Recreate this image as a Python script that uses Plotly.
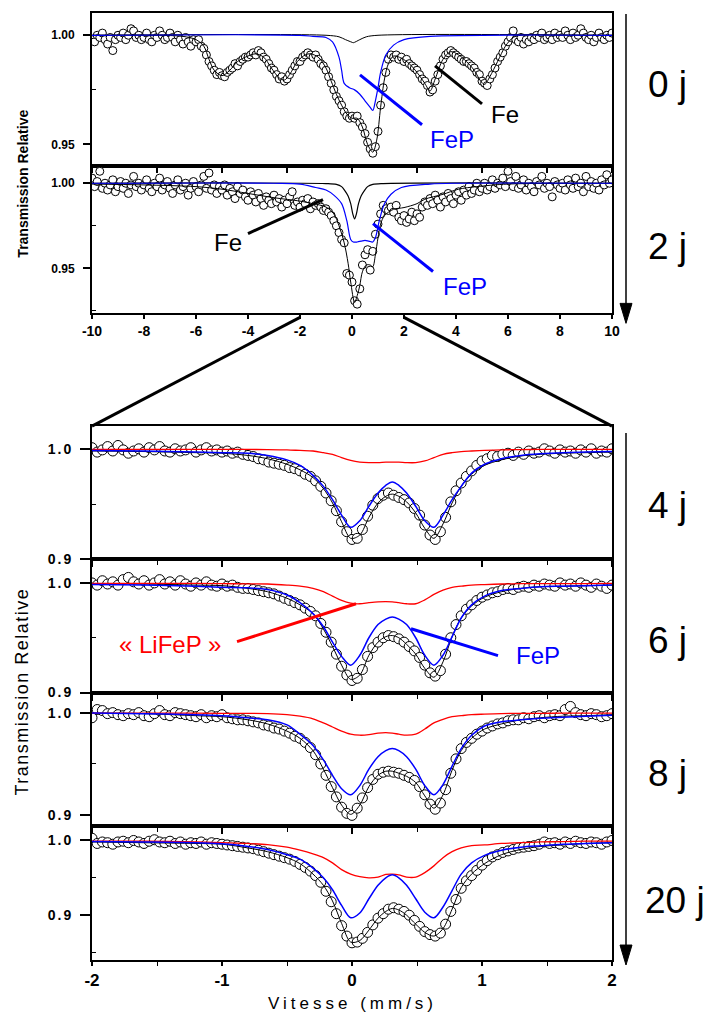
import numpy as np
import plotly.graph_objects as go

# ---------------- velocity channels ----------------
V_TOP = np.round(np.linspace(-10, 10, 201), 3)
V_BOT = np.round(np.linspace(-2, 2, 101), 3)

# ---------------- 0 j spectrum (wide range) ----------------
D0 = [0.998, 0.997, 1.000, 0.999, 1.001, 0.998, 0.996, 0.999, 0.993, 0.998,
      1.000, 0.999, 1.001, 0.998, 1.000, 1.003, 1.002, 0.999, 1.000, 0.998,
      0.999, 1.001, 0.998, 0.997, 1.000, 0.999, 1.002, 1.000, 0.998, 0.999,
      1.001, 0.999, 0.997, 1.000, 0.998, 0.996, 0.999, 0.997, 0.995, 0.998,
      0.997, 0.998, 0.995, 0.994, 0.991, 0.988, 0.986, 0.984, 0.982, 0.983,
      0.9815, 0.981, 0.983, 0.984, 0.985, 0.987, 0.986, 0.988, 0.989, 0.990,
      0.990, 0.991, 0.992, 0.991, 0.993, 0.992, 0.990, 0.989, 0.987, 0.985,
      0.984, 0.982, 0.980, 0.981, 0.979, 0.980, 0.982, 0.984, 0.986, 0.988,
      0.988, 0.990, 0.991, 0.992, 0.991, 0.990, 0.991, 0.989, 0.987, 0.986,
      0.984, 0.981, 0.978, 0.975, 0.972, 0.970, 0.968, 0.965, 0.963, 0.962,
      0.963, 0.962, 0.963, 0.960, 0.958, 0.955, 0.951, 0.948, 0.946, 0.949,
      0.956, 0.968, 0.976, 0.983, 0.989, 0.991, 0.990, 0.991, 0.989, 0.990,
      0.988, 0.989, 0.987, 0.986, 0.985, 0.984, 0.982, 0.980, 0.979, 0.977,
      0.974, 0.975, 0.979, 0.982, 0.986, 0.989, 0.991, 0.992, 0.993, 0.992,
      0.991, 0.990, 0.989, 0.988, 0.988, 0.987, 0.986, 0.985, 0.983, 0.982,
      0.979, 0.978, 0.977, 0.980, 0.982, 0.985, 0.988, 0.990, 0.992, 0.995,
      0.997, 0.999, 1.002, 0.998, 0.997, 0.999, 0.996, 0.998, 0.997, 0.999,
      0.998, 1.000, 0.999, 1.001, 0.998, 0.999, 1.000, 0.998, 1.001, 0.999,
      1.000, 0.999, 1.002, 1.000, 0.998, 1.001, 0.999, 1.000, 1.003, 1.001,
      0.999, 0.998, 1.000, 0.997, 0.999, 1.001, 0.999, 0.998, 1.000, 0.999,
      1.001]
FIT0_X = [-10, -8, -6.5, -6.0, -5.7, -5.5, -5.3, -5.0, -4.7, -4.4, -4.0, -3.7, -3.4, -3.1,
          -2.8, -2.6, -2.4, -2.1, -1.8, -1.6, -1.3, -1.0, -0.8, -0.6, -0.4, -0.2, 0.0, 0.2,
          0.4, 0.6, 0.8, 0.95, 1.1, 1.25, 1.4, 1.6, 1.9, 2.2, 2.5, 2.8, 3.0, 3.2, 3.5, 3.8,
          4.1, 4.4, 4.7, 4.95, 5.1, 5.3, 5.6, 5.9, 6.2, 6.5, 8, 10]
FIT0_Y = [1.0, 1.0, 0.9995, 0.998, 0.995, 0.989, 0.984, 0.9815, 0.984, 0.988, 0.9905, 0.9915,
          0.990, 0.985, 0.9805, 0.9795, 0.982, 0.988, 0.991, 0.9915, 0.990, 0.985, 0.979,
          0.973, 0.968, 0.964, 0.962, 0.962, 0.958, 0.950, 0.9465, 0.952, 0.967, 0.980,
          0.987, 0.9905, 0.9895, 0.987, 0.983, 0.978, 0.9745, 0.980, 0.989, 0.9925, 0.991,
          0.988, 0.984, 0.979, 0.9775, 0.981, 0.988, 0.995, 0.999, 1.0, 1.0, 1.0]
FEP0_X = [-10, -2, -1.5, -1.0, -0.75, -0.5, -0.4, -0.3, -0.1, 0.1, 0.3, 0.5, 0.7, 0.8, 0.9,
          1.0, 1.1, 1.3, 1.6, 2.0, 3.0, 10]
FEP0_Y = [1.0, 1.0, 0.9995, 0.999, 0.997, 0.990, 0.984, 0.978, 0.976, 0.975, 0.973, 0.970,
          0.967, 0.9656, 0.970, 0.976, 0.983, 0.991, 0.9955, 0.998, 0.9995, 1.0]
FE0_X = [-10, -1.0, -0.5, -0.25, 0.0, 0.05, 0.3, 0.55, 1.0, 10]
FE0_Y = [1.0, 1.0, 0.9993, 0.998, 0.9968, 0.9966, 0.998, 0.9993, 1.0, 1.0]

# ---------------- 2 j spectrum (wide range) ----------------
D2 = [1.003, 0.998, 1.001, 1.007, 0.997, 1.000, 0.996, 0.999, 1.002, 0.995,
      0.998, 1.001, 0.997, 1.000, 0.994, 0.999, 1.004, 0.998, 1.000, 0.996,
      0.999, 1.002, 0.997, 0.995, 1.000, 0.998, 1.003, 0.996, 0.999, 1.001,
      0.997, 0.994, 0.999, 1.002, 0.996, 0.998, 1.000, 0.993, 0.997, 1.001,
      0.998, 0.995, 0.999, 1.004, 0.997, 1.006, 0.996, 0.999, 0.994, 0.998,
      0.996, 0.999, 0.993, 0.997, 0.995, 0.991, 0.998, 0.994, 0.996, 0.992,
      0.990, 0.995, 0.993, 0.989, 0.994, 0.991, 0.987, 0.992, 0.990, 0.988,
      0.993, 0.989, 0.991, 0.986, 0.990, 0.988, 0.992, 0.995, 0.987, 0.989,
      0.986, 0.990, 0.988, 0.991, 0.985, 0.989, 0.987, 0.988, 0.986, 0.984,
      0.985, 0.983, 0.981, 0.978, 0.975, 0.971, 0.967, 0.965, 0.947, 0.946,
      0.942, 0.931, 0.929, 0.938, 0.952, 0.958, 0.961, 0.949, 0.960, 0.970,
      0.976, 0.982, 0.987, 0.985, 0.984, 0.986, 0.983, 0.987, 0.980, 0.978,
      0.981, 0.977, 0.979, 0.983, 0.978, 0.982, 0.980, 0.986, 0.989, 0.987,
      0.991, 0.988, 0.993, 0.990, 0.986, 0.992, 0.989, 0.994, 0.991, 0.988,
      0.993, 0.995, 0.990, 0.996, 0.993, 0.998, 0.994, 0.996, 1.000, 0.995,
      0.997, 1.000, 0.996, 0.998, 1.002, 0.997, 1.000, 0.999, 1.003, 0.998,
      1.007, 1.001, 0.998, 1.004, 0.997, 0.999, 1.002, 0.996, 1.000, 0.998,
      0.995, 1.001, 0.999, 1.004, 0.997, 1.000, 0.998, 0.992, 1.001, 0.999,
      0.997, 1.000, 0.996, 1.002, 0.999, 0.997, 1.003, 0.998, 1.000, 0.995,
      1.004, 0.998, 1.001, 0.997, 1.000, 0.996, 1.002, 0.999, 1.005, 1.000,
      1.002]
FIT2_X = [-10, -8, -6, -5, -4, -3, -2, -1.5, -1.0, -0.7, -0.5, -0.3, -0.15, -0.05, 0.1, 0.2,
          0.3, 0.4, 0.55, 0.7, 0.8, 0.9, 1.0, 1.1, 1.25, 1.6, 2.0, 2.5, 2.8, 3.5, 4.1, 4.8,
          6, 10]
FIT2_Y = [0.9995, 0.999, 0.998, 0.9965, 0.994, 0.9915, 0.9895, 0.988, 0.986, 0.982, 0.975,
          0.965, 0.953, 0.942, 0.930, 0.934, 0.940, 0.948, 0.952, 0.952, 0.951, 0.958,
          0.968, 0.976, 0.981, 0.9847, 0.9857, 0.988, 0.9906, 0.9935, 0.9965, 0.998,
          0.9995, 1.0]
FEP2_X = [-10, -3, -2, -1.4, -1.0, -0.7, -0.4, -0.2, -0.05, 0.05, 0.2, 0.35, 0.5, 0.65, 0.8,
          0.9, 1.05, 1.24, 1.5, 1.9, 3.0, 4.0, 10]
FEP2_Y = [1.0, 1.0, 0.9995, 0.9975, 0.996, 0.993, 0.988, 0.978, 0.967, 0.9655, 0.9655, 0.966,
          0.9665, 0.966, 0.9655, 0.968, 0.978, 0.9877, 0.9935, 0.9975, 0.9995, 1.0, 1.0]
FE2_X = [-10, -1, -0.6, -0.4, -0.27, -0.15, -0.05, 0.03, 0.1, 0.17, 0.25, 0.35, 0.47, 0.6,
         0.8, 1.2, 10]
FE2_Y = [1.0, 0.9998, 0.9993, 0.998, 0.9955, 0.9925, 0.988, 0.982, 0.979, 0.982, 0.988,
         0.9925, 0.9955, 0.998, 0.9993, 0.9998, 1.0]

# ---------------- narrow range spectra ----------------
D4 = [1.001, 0.997, 0.999, 1.002, 0.998, 1.003, 0.999, 0.996, 0.998, 1.000,
      0.997, 1.001, 0.999, 1.002, 0.998, 0.997, 1.000, 0.998, 0.999, 1.001,
      0.997, 0.999, 1.001, 0.998, 0.999, 0.997, 0.998, 0.996, 0.997, 0.995,
      0.994, 0.993, 0.991, 0.990, 0.988, 0.987, 0.986, 0.985, 0.983, 0.982,
      0.980, 0.977, 0.975, 0.971, 0.966, 0.960, 0.953, 0.944, 0.934, 0.925,
      0.918, 0.919, 0.927, 0.939, 0.949, 0.955, 0.958, 0.960, 0.958, 0.956,
      0.954, 0.951, 0.946, 0.940, 0.931, 0.922, 0.918, 0.925, 0.938, 0.952,
      0.962, 0.969, 0.975, 0.980, 0.985, 0.989, 0.991, 0.994, 0.993, 0.995,
      0.996, 0.994, 0.997, 0.995, 0.998, 0.996, 0.997, 1.000, 0.998, 0.996,
      0.999, 0.997, 0.998, 0.996, 0.999, 0.997, 1.000, 0.996, 0.998, 0.997,
      1.000]
D6 = [1.000, 0.998, 1.002, 0.999, 1.001, 0.998, 1.003, 1.005, 1.001, 0.999,
      1.002, 0.998, 1.000, 1.003, 0.999, 1.001, 0.998, 1.002, 0.999, 0.997,
      1.000, 0.998, 1.001, 0.998, 0.997, 0.999, 0.997, 0.998, 0.996, 0.995,
      0.995, 0.994, 0.993, 0.992, 0.991, 0.990, 0.988, 0.986, 0.984, 0.982,
      0.980, 0.977, 0.974, 0.970, 0.963, 0.955, 0.946, 0.935, 0.924, 0.916,
      0.911, 0.913, 0.921, 0.933, 0.941, 0.946, 0.950, 0.952, 0.951, 0.949,
      0.946, 0.942, 0.938, 0.932, 0.925, 0.918, 0.915, 0.920, 0.935, 0.950,
      0.962, 0.970, 0.976, 0.980, 0.984, 0.987, 0.989, 0.991, 0.992, 0.994,
      0.995, 0.994, 0.996, 0.997, 0.996, 0.998, 0.997, 0.999, 0.998, 0.997,
      1.000, 0.998, 0.999, 0.997, 1.000, 0.998, 0.996, 0.999, 0.997, 0.995,
      0.998]
D8 = [0.995, 1.003, 1.002, 0.999, 1.000, 0.998, 0.997, 0.999, 0.998, 1.000,
      0.997, 0.996, 0.999, 1.002, 0.998, 0.997, 1.000, 0.999, 0.998, 0.997,
      0.996, 0.998, 0.995, 0.997, 0.996, 0.998, 0.995, 0.994, 0.993, 0.993,
      0.992, 0.991, 0.990, 0.988, 0.987, 0.985, 0.984, 0.982, 0.980, 0.977,
      0.975, 0.971, 0.966, 0.959, 0.950, 0.939, 0.928, 0.918, 0.908, 0.902,
      0.900, 0.907, 0.917, 0.927, 0.935, 0.940, 0.942, 0.943, 0.942, 0.941,
      0.939, 0.937, 0.934, 0.928, 0.920, 0.911, 0.906, 0.912, 0.925, 0.941,
      0.955, 0.965, 0.971, 0.975, 0.979, 0.982, 0.985, 0.987, 0.989, 0.990,
      0.992, 0.993, 0.993, 0.995, 0.994, 0.996, 0.997, 0.995, 0.997, 0.998,
      0.997, 1.003, 1.006, 1.000, 0.998, 0.997, 0.999, 0.998, 0.996, 0.997,
      0.999]
D20 = [1.003, 0.996, 0.998, 0.997, 0.995, 0.998, 0.999, 0.997, 1.000, 0.998,
       0.996, 0.999, 1.001, 0.998, 0.997, 0.999, 0.996, 0.998, 0.995, 0.997,
       0.996, 0.998, 0.995, 0.997, 0.996, 0.995, 0.994, 0.993, 0.992, 0.991,
       0.990, 0.989, 0.987, 0.985, 0.983, 0.981, 0.979, 0.977, 0.975, 0.972,
       0.968, 0.964, 0.959, 0.953, 0.944, 0.932, 0.918, 0.902, 0.886, 0.872,
       0.863, 0.864, 0.869, 0.877, 0.887, 0.896, 0.902, 0.908, 0.910, 0.908,
       0.905, 0.900, 0.893, 0.885, 0.878, 0.874, 0.872, 0.876, 0.888, 0.905,
       0.921, 0.936, 0.946, 0.953, 0.960, 0.967, 0.973, 0.978, 0.981, 0.984,
       0.986, 0.988, 0.990, 0.991, 0.992, 0.993, 0.995, 0.998, 0.996, 0.997,
       0.995, 0.998, 0.996, 0.999, 0.997, 0.996, 0.998, 0.997, 0.995, 0.998,
       1.000]

FIT_XB = [-2.0, -1.6, -1.2, -1.0, -0.8, -0.65, -0.5, -0.4, -0.3, -0.22, -0.15, -0.08, -0.01,
          0.06, 0.13, 0.2, 0.26, 0.31, 0.36, 0.42, 0.49, 0.56, 0.63, 0.70, 0.77, 0.84, 0.92,
          1.02, 1.15, 1.3, 1.45, 1.62, 1.8, 2.0]

FEP4 = [0.9985, 0.998, 0.997, 0.9965, 0.996, 0.994, 0.990, 0.985, 0.976, 0.966, 0.954, 0.940,
        0.929, 0.935, 0.948, 0.960, 0.967, 0.970, 0.967, 0.960, 0.948, 0.935, 0.929, 0.940,
        0.954, 0.966, 0.978, 0.986, 0.991, 0.994, 0.9955, 0.9965, 0.997, 0.9975]
LI4 = [0.9995, 0.9995, 0.9995, 0.9994, 0.9994, 0.9993, 0.999, 0.9985, 0.998, 0.9965, 0.995,
       0.992, 0.9895, 0.988, 0.9875, 0.9875, 0.988, 0.988, 0.988, 0.9875, 0.9875, 0.989,
       0.992, 0.995, 0.9965, 0.9975, 0.998, 0.9985, 0.999, 0.9993, 0.9994, 0.9995, 0.9995,
       0.9995]
FIT4 = [0.998, 0.9975, 0.9965, 0.996, 0.994, 0.991, 0.986, 0.981, 0.974, 0.964, 0.951, 0.934,
        0.919, 0.922, 0.938, 0.951, 0.957, 0.959, 0.957, 0.952, 0.942, 0.928, 0.919, 0.932,
        0.951, 0.966, 0.977, 0.985, 0.990, 0.9935, 0.995, 0.996, 0.9965, 0.997]

FEP6 = [0.9985, 0.998, 0.997, 0.996, 0.9955, 0.994, 0.989, 0.982, 0.972, 0.960, 0.946, 0.933,
        0.925, 0.934, 0.950, 0.962, 0.967, 0.969, 0.967, 0.962, 0.950, 0.934, 0.925, 0.934,
        0.951, 0.968, 0.980, 0.988, 0.993, 0.995, 0.9965, 0.997, 0.9975, 0.998]
LI6 = [0.9995, 0.9995, 0.9995, 0.9993, 0.9992, 0.999, 0.998, 0.997, 0.995, 0.992, 0.988,
       0.984, 0.9815, 0.981, 0.982, 0.9828, 0.983, 0.9828, 0.982, 0.981, 0.981, 0.9845,
       0.9895, 0.9935, 0.996, 0.997, 0.998, 0.9985, 0.999, 0.9993, 0.9993, 0.9994, 0.9994,
       0.9995]
FIT6 = [0.9995, 0.999, 0.998, 0.9975, 0.995, 0.992, 0.986, 0.980, 0.972, 0.958, 0.942, 0.925,
        0.912, 0.916, 0.934, 0.946, 0.951, 0.952, 0.950, 0.944, 0.935, 0.922, 0.914, 0.928,
        0.951, 0.968, 0.979, 0.987, 0.992, 0.995, 0.9965, 0.997, 0.9975, 0.998]

FEP8 = [0.9995, 0.999, 0.998, 0.997, 0.995, 0.993, 0.988, 0.979, 0.968, 0.954, 0.939, 0.926,
        0.920, 0.929, 0.945, 0.957, 0.963, 0.965, 0.963, 0.957, 0.945, 0.929, 0.920, 0.930,
        0.948, 0.965, 0.978, 0.987, 0.991, 0.993, 0.9945, 0.9955, 0.9965, 0.9974]
LI8 = [0.9995, 0.9995, 0.9995, 0.9993, 0.9992, 0.999, 0.998, 0.9965, 0.994, 0.990, 0.986,
       0.982, 0.979, 0.978, 0.9785, 0.980, 0.9805, 0.980, 0.979, 0.978, 0.979, 0.984, 0.990,
       0.9935, 0.996, 0.997, 0.998, 0.9985, 0.999, 0.9993, 0.9993, 0.9994, 0.9994, 0.9995]
FIT8 = [0.9995, 0.999, 0.997, 0.996, 0.993, 0.989, 0.982, 0.975, 0.963, 0.945, 0.927, 0.910,
        0.901, 0.910, 0.928, 0.939, 0.943, 0.943, 0.941, 0.938, 0.932, 0.919, 0.907, 0.920,
        0.944, 0.963, 0.975, 0.984, 0.989, 0.993, 0.995, 0.9965, 0.997, 0.998]

FEP20 = [0.9985, 0.998, 0.997, 0.9955, 0.992, 0.988, 0.981, 0.975, 0.963, 0.950, 0.934, 0.913,
         0.8965, 0.903, 0.922, 0.940, 0.950, 0.954, 0.950, 0.940, 0.922, 0.904, 0.8965, 0.911,
         0.933, 0.955, 0.970, 0.980, 0.987, 0.991, 0.993, 0.995, 0.996, 0.997]
LI20 = [0.999, 0.999, 0.998, 0.997, 0.996, 0.9945, 0.991, 0.987, 0.982, 0.977, 0.970, 0.961,
        0.955, 0.9515, 0.950, 0.951, 0.9545, 0.955, 0.954, 0.951, 0.951, 0.957, 0.966, 0.977,
        0.985, 0.990, 0.993, 0.994, 0.996, 0.997, 0.998, 0.9985, 0.999, 0.999]
FIT20 = [0.998, 0.997, 0.996, 0.995, 0.990, 0.985, 0.977, 0.969, 0.955, 0.940, 0.919, 0.889,
         0.864, 0.866, 0.880, 0.896, 0.905, 0.909, 0.907, 0.900, 0.888, 0.877, 0.872, 0.882,
         0.908, 0.937, 0.955, 0.969, 0.981, 0.988, 0.992, 0.994, 0.996, 0.997]

# ---------------- labels ----------------
DAY_LABELS = ["0 j", "2 j", "4 j", "6 j", "8 j", "20 j"]
TOP_XTICKS = [-10, -8, -6, -4, -2, 0, 2, 4, 6, 8, 10]
BOT_XTICKS = [-2, -1, 0, 1, 2]

# ---------------- geometry helpers (pixel -> paper) ----------------
W, H = 712, 1023
ML, MR, MT, MB = 92, 100, 11, 63
PW, PH = W - ML - MR, H - MT - MB


def X(px):
    return (px - ML) / PW


def Y(py):
    return (H - MB - py) / PH


FONT = "Liberation Sans, Arial, sans-serif"
BLUE = "#0000ff"
RED = "#ff0000"

fig = go.Figure()

panels = [
    dict(x=V_TOP, y=D0, fits=[(FIT0_X, FIT0_Y, "black", 1), (FE0_X, FE0_Y, "black", 1),
                                (FEP0_X, FEP0_Y, BLUE, 1.2)],
         yr=[0.9403, 1.0102], top=11, bot=164, wide=True, msize=8),
    dict(x=V_TOP, y=D2, fits=[(FIT2_X, FIT2_Y, "black", 1), (FE2_X, FE2_Y, "black", 1.2),
                                (FEP2_X, FEP2_Y, BLUE, 1.2)],
         yr=[0.9236, 1.0103], top=164, bot=312, wide=True, msize=8),
    dict(x=V_BOT, y=D4, fits=[(FIT_XB, FIT4, "black", 1), (FIT_XB, LI4, RED, 1.3),
                                (FIT_XB, FEP4, BLUE, 1.5)],
         yr=[0.9, 1.0205], top=425, bot=558.5, wide=False, msize=10),
    dict(x=V_BOT, y=D6, fits=[(FIT_XB, FIT6, "black", 1), (FIT_XB, LI6, RED, 1.3),
                                (FIT_XB, FEP6, BLUE, 1.5)],
         yr=[0.9, 1.0215], top=558.5, bot=692, wide=False, msize=10),
    dict(x=V_BOT, y=D8, fits=[(FIT_XB, FIT8, "black", 1), (FIT_XB, LI8, RED, 1.3),
                                (FIT_XB, FEP8, BLUE, 1.5)],
         yr=[0.8894, 1.0195], top=692, bot=826, wide=False, msize=10),
    dict(x=V_BOT, y=D20, fits=[(FIT_XB, FIT20, "black", 1), (FIT_XB, LI20, RED, 1.3),
                                 (FIT_XB, FEP20, BLUE, 1.5)],
         yr=[0.840, 1.019], top=826, bot=960, wide=False, msize=10),
]

layout_axes = {}
for i, p in enumerate(panels, start=1):
    xa = "x" if i == 1 else f"x{i}"
    ya = "y" if i == 1 else f"y{i}"
    fig.add_trace(go.Scatter(
        x=p["x"], y=p["y"], mode="markers", xaxis=xa, yaxis=ya, showlegend=False,
        marker=dict(symbol="circle", size=p["msize"], color="white",
                    line=dict(color="black", width=1)),
        hoverinfo="skip"))
    for fx, fy, col, lw in p["fits"]:
        fig.add_trace(go.Scatter(
            x=fx, y=fy, mode="lines", xaxis=xa, yaxis=ya, showlegend=False,
            line=dict(color=col, width=lw, shape="spline", smoothing=0.9),
            hoverinfo="skip"))

    xkey = "xaxis" if i == 1 else f"xaxis{i}"
    ykey = "yaxis" if i == 1 else f"yaxis{i}"
    dom = [Y(p["bot"]), Y(p["top"])]
    if p["wide"]:
        xcfg = dict(range=[-10, 10], domain=[0, 1], anchor=ya, showline=True, mirror=True,
                    linecolor="black", linewidth=2, showgrid=False, zeroline=False,
                    ticks="outside", ticklen=5, tickwidth=1.5, tickcolor="black")
        if i == 1:
            xcfg.update(tickvals=[-10, -7.5, -5, -2.5, 0, 2.5, 5, 7.5, 10], showticklabels=False)
        else:
            xcfg.update(tickvals=TOP_XTICKS, ticktext=[f"<b>{v}</b>" for v in TOP_XTICKS],
                        tickfont=dict(family=FONT, size=14, color="black"), ticklen=4)
        ycfg = dict(range=p["yr"], domain=dom, anchor=xa, showline=True, mirror=True,
                    linecolor="black", linewidth=2, showgrid=False, zeroline=False,
                    tickvals=[0.95, 1.0], ticktext=["<b>0.95</b>", "<b>1.00</b>"],
                    ticks="outside", ticklen=7, tickwidth=1.5, tickcolor="black",
                    ticklabelstandoff=6,
                    tickfont=dict(family=FONT, size=12, color="black"),
                    minor=dict(tickvals=[0.925, 0.975], ticks="inside", ticklen=4,
                               tickwidth=1, tickcolor="black"))
    else:
        xcfg = dict(range=[-2, 2], domain=[0, 1], anchor=ya, showline=True, mirror=True,
                    linecolor="black", linewidth=2, showgrid=False, zeroline=False,
                    tickvals=BOT_XTICKS, ticks="outside", ticklen=6, tickwidth=1.5,
                    tickcolor="black",
                    minor=dict(tickvals=[-1.5, -0.5, 0.5, 1.5], ticks="outside", ticklen=4,
                               tickwidth=1, tickcolor="black"))
        if i == 6:
            xcfg.update(ticktext=[f"<b>{v}</b>" for v in BOT_XTICKS], ticklen=4,
                        tickfont=dict(family=FONT, size=17, color="black"))
        else:
            xcfg.update(showticklabels=False)
        ycfg = dict(range=p["yr"], domain=dom, anchor=xa, showline=True, mirror=True,
                    linecolor="black", linewidth=2, showgrid=False, zeroline=False,
                    tickvals=[0.9, 1.0],
                    ticktext=['<span style="letter-spacing:2px"><b>0.9</b></span>',
                              '<span style="letter-spacing:2px"><b>1.0</b></span>'],
                    ticks="outside", ticklen=10, tickwidth=1.5, tickcolor="black",
                    ticklabelstandoff=4,
                    tickfont=dict(family=FONT, size=14, color="black"),
                    minor=dict(tickvals=[0.85, 0.95], ticks="inside", ticklen=4,
                               tickwidth=1, tickcolor="black"))
    layout_axes[xkey] = xcfg
    layout_axes[ykey] = ycfg

fig.update_layout(**layout_axes)

# ---------------- decorations ----------------
shapes = []


def seg(x0, y0, x1, y1, color="black", width=3):
    shapes.append(dict(type="line", xref="paper", yref="paper", x0=X(x0), y0=Y(y0),
                       x1=X(x1), y1=Y(y1), line=dict(color=color, width=width)))


# zoom connector lines
seg(300, 316, 92, 425, width=3)
seg(404, 316, 612, 425, width=3)
# pointer lines
seg(360, 73, 422, 123, BLUE, 3)
seg(435, 64, 482, 102, "black", 3)
seg(248, 232, 323, 198, "black", 3)
seg(373, 222, 433, 270, BLUE, 3)
seg(237, 641, 356, 603, RED, 3)
seg(411, 628, 498, 655, BLUE, 3)
# time arrows
AX = 626
seg(AX, 12, AX, 305, "black", 1.5)
seg(AX, 432, AX, 948, "black", 1.5)
for tip in (322, 965):
    shapes.append(dict(type="path", xref="paper", yref="paper",
                       path=f"M {X(AX - 6)},{Y(tip - 20)} L {X(AX + 6)},{Y(tip - 20)} L {X(AX)},{Y(tip)} Z",
                       fillcolor="black", line=dict(color="black", width=1)))
fig.update_layout(shapes=shapes)

ann = []


def text(px, py, s, size, color="black", family=FONT, angle=0):
    ann.append(dict(xref="paper", yref="paper", x=X(px), y=Y(py), text=s, showarrow=False,
                    xanchor="center", yanchor="middle", textangle=angle,
                    font=dict(family=family, size=size, color=color)))


text(505, 113, "Fe", 24, "black")
text(452, 138, "FeP", 24, BLUE)
text(228, 241, "Fe", 24, "black")
text(465, 285, "FeP", 24, BLUE)
text(170, 644, "« LiFeP »", 24, RED)
text(538, 655, "FeP", 24, BLUE)
for lab, (px, py) in zip(DAY_LABELS, [(667, 83), (667, 245), (667, 505), (667, 640),
                                      (667, 773), (675, 900)]):
    text(px, py, lab, 37, "black")
text(23, 182, "<b>Transmission Relative</b>", 14, angle=-90)
text(22, 691, '<span style="letter-spacing:1.5px">Transmission Relative</span>', 18, angle=-90)
text(352, 1004, '<span style="letter-spacing:4px">Vitesse (mm/s)</span>', 17)
fig.update_layout(annotations=ann)

fig.update_layout(width=W, height=H, autosize=False,
                  margin=dict(l=ML, r=MR, t=MT, b=MB, pad=0),
                  paper_bgcolor="white", plot_bgcolor="white", showlegend=False)

# remove the default page margin so the figure sits at the window origin
fig.write_html("out.html",
               config={"displayModeBar": False},
               post_script="document.body.style.margin='0px';"
                           "document.body.style.overflow='hidden';"
                           "document.documentElement.style.overflow='hidden';")
